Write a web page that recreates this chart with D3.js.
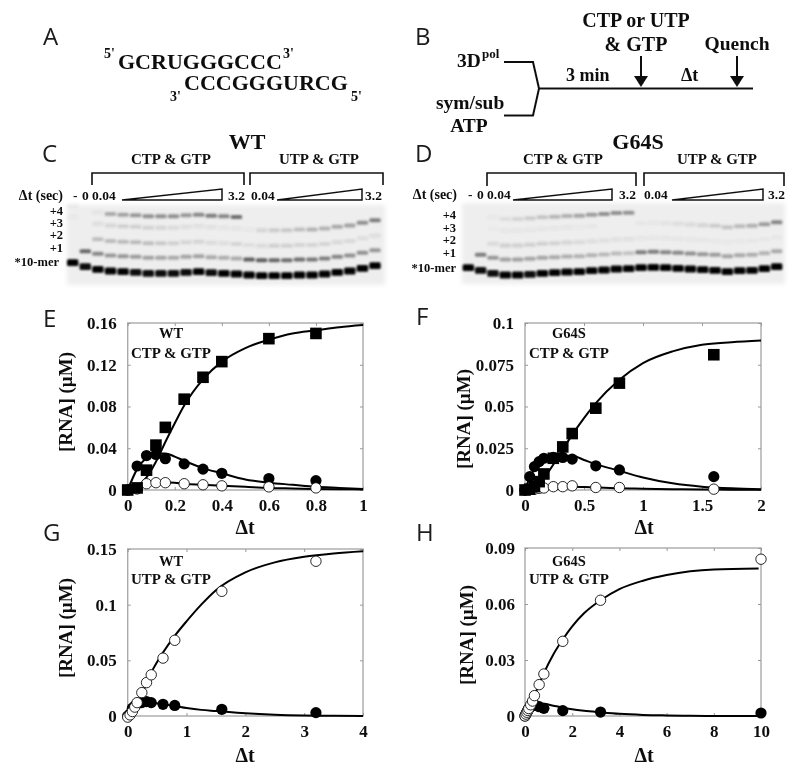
<!DOCTYPE html>
<html><head><meta charset="utf-8">
<script src="https://cdn.jsdelivr.net/npm/d3@7/dist/d3.min.js"></script>
<style>
html,body{margin:0;padding:0;background:#fff}
svg{display:block}
text{font-family:"Liberation Serif",serif;font-weight:700;fill:#111}
.letter{font-family:"Open Sans",sans-serif;font-weight:400;font-size:24px;fill:#1a1a1a}
</style></head><body><div id="chart"></div>
<script>
// ---- kinetics data: time points (s) and [RNA] (uM)
const tE=[0,.04,.08,.12,.16,.24,.32,.4,.6,.8];
const eSquare=[0,.002,.019,.043,.060,.087,.108,.123,.145,.150];
const eFilled=[0,.023,.033,.034,.030,.025,.020,.016,.011,.009];
const eOpen=[0,.001,.006,.007,.007,.006,.005,.004,.003,.002];
const eCurveT=[0,.04,.08,.12,.16,.2,.24,.32,.4,.5,.6,.7,.8,.9,1];
const eCurveS=[0,.003,.012,.027,.046,.064,.081,.106,.123,.136,.144,.150,.153,.156,.158];
const eCurveF=[0,.020,.031,.035,.035,.032,.028,.021,.016,.010,.007,.005,.003,.002,.001];
const eCurveO=[0,.004,.007,.0075,.0075,.007,.006,.005,.004,.003,.002,.0015,.001,.0008,.0005];

const tF=[0,.04,.08,.12,.16,.24,.32,.4,.6,.8,1.6];
const fSquare=[0,.0005,.002,.005,.0096,.019,.0258,.0338,.049,.064,.081];
const fFilled=[0,.008,.014,.017,.019,.0195,.0195,.0185,.0145,.012,.008];
const fOpen=[0,.0003,.0005,.001,.0012,.002,.002,.0025,.0015,.0015,.0005];
const fCurveT=[0,.05,.1,.2,.3,.4,.5,.6,.8,1,1.25,1.5,1.75,2];
const fCurveS=[0,.0005,.003,.011,.022,.033,.043,.052,.066,.076,.083,.087,.0885,.0895];
const fCurveF=[0,.009,.014,.019,.0205,.0205,.018,.0155,.0115,.0075,.004,.002,.001,.0005];
const fCurveO=[0,.0005,.001,.002,.002,.002,.0018,.0015,.001,.0008,.0005,.0003,.0002,.0001];

const tG=[0,.04,.08,.12,.16,.24,.32,.4,.6,.8,1.6,3.2];
const gOpen=[-.001,.001,.004,.008,.012,.021,.03,.037,.052,.068,.112,.139];
const gFilled=[0,.002,.007,.009,.011,.012,.013,.012,.0105,.0095,.006,.003];
const gCurveT=[0,.2,.4,.6,.8,1,1.25,1.5,2,2.5,3,3.5,4];
const gCurveO=[0,.015,.039,.057,.072,.085,.100,.113,.129,.138,.143,.146,.148];
const gCurveF=[0,.012,.012,.0105,.009,.0072,.0055,.0045,.0025,.0012,.0005,.0002,0];

const tH=[0,.04,.08,.12,.16,.24,.32,.4,.6,.8,1.6,3.2,10];
const hOpen=[0,.001,.002,.003,.004,.006,.008,.0109,.0168,.0225,.040,.062,.084];
const hFilled=[0,.001,.002,.003,.004,.005,.0055,.006,.005,.0041,.0029,.0021,.0016];
const hCurveT=[0,.4,.8,1.2,1.6,2,2.5,3.2,4,5,6,7,8,9.9];
const hCurveO=[0,.011,.023,.033,.041,.048,.055,.062,.068,.0725,.0755,.0775,.0785,.079];
const hCurveF=[0,.006,.0065,.0055,.0045,.0036,.0028,.002,.0012,.0006,.0003,.0001,0,0];

const xTicksE=[0,.2,.4,.6,.8,1], yTicksE=[0,.04,.08,.12,.16];
const xTicksF=[0,.5,1,1.5,2], yTicksF=[0,.025,.05,.075,.1];
const xTicksG=[0,1,2,3,4], yTicksG=[0,.05,.1,.15];
const xTicksH=[0,2,4,6,8,10], yTicksH=[0,.03,.06,.09];

// ---- gel data: 10-mer mobility per lane and band strength per lane
const mobC=[22.3,18.3,15.7,14,13.3,12.7,11.7,11.7,11.7,12.7,13.3,12.3,11.7,11,10,9.3,9.3,9.3,10,10,11,12.7,14,16.7,19.3];
const c10=[1,.95,1,1,1,.95,.95,.95,.95,.95,1,.95,1,1,1,1,1,1,1,1,1,1,1,1,1];
const cP1=[0,.8,.6,.5,.5,.48,.45,.42,.4,.42,.45,.4,.38,.4,.85,.85,.8,.75,.75,.7,.65,.6,.55,.55,.5];
const cP2=[0,0,.28,.3,.3,.3,.28,.22,.18,.15,.15,.12,.1,.15,.1,.12,.18,.18,.15,.15,.15,.13,.13,.1,.1];
const cP3=[.04,0,.1,.14,.18,.18,.16,.14,.12,.1,.08,.08,.06,.06,.04,.14,.2,.22,.28,.34,.36,.4,.45,.55,.65];
const cP4=[.05,0,.06,.4,.45,.5,.55,.55,.55,.5,.58,.65,.6,.75,0,0,0,0,0,0,0,0,0,0,0];

const mobD=[16.3,13.7,10.7,9,9,9.7,10.7,11.3,12,12.3,13.3,14,15,15.3,16.3,16.7,16.3,15.7,15,14.3,13.7,12.3,13.3,13.7,15.3,17.3];
const d10=[1,.95,.95,1,1,.95,1,1,1,1,1,1,1,1,1,1,1,1,1,1,1,1,1,1,1,1];
const dP1=[0,.65,.5,.45,.45,.42,.42,.4,.38,.35,.35,.32,.3,.25,.65,.65,.6,.58,.55,.5,.48,.42,.4,.38,.35,.4];
const dP2=[0,0,.12,.18,.18,.18,.18,.16,.15,.12,.1,.1,.08,.08,.05,.05,.05,.05,.05,.05,.04,.04,.04,.03,.03,.03];
const dP3=[0,0,.02,.05,.05,.05,.05,.05,.05,.04,.03,0,0,0,.03,.05,.07,.1,.12,.15,.2,.24,.3,.36,.48,.6];
const dP4=[0,0,.04,.1,.15,.2,.25,.32,.36,.42,.48,.55,.55,.52,0,0,0,0,0,0,0,0,0,0,0,0];
const bandLevelsC=[0,15.5,30,45.5,57];
const bandLevelsD=[0,15.5,29.5,44.5,56];
const bandNames=["*10-mer","+1","+2","+3","+4"];

const W=800,H=777;
const svg=d3.select("#chart").append("svg").attr("width",W).attr("height",H).attr("viewBox",[0,0,W,H]);
const defs=svg.append("defs");
defs.append("filter").attr("id","band").attr("x","-30%").attr("y","-80%").attr("width","160%").attr("height","260%")
  .append("feGaussianBlur").attr("stdDeviation","1.1 1.0");
defs.append("filter").attr("id","bg").attr("x","-5%").attr("y","-10%").attr("width","110%").attr("height","120%")
  .append("feGaussianBlur").attr("stdDeviation",2);
defs.append("filter").attr("id","soft").attr("x","-10%").attr("y","-10%").attr("width","120%").attr("height","120%")
  .append("feGaussianBlur").attr("stdDeviation",.4);

const root=svg.append("g").attr("filter","url(#soft)");
function label(t,x,y,size,anchor="start",cls=null){
  return root.append("text").attr("x",x).attr("y",y).attr("font-size",size).attr("text-anchor",anchor).attr("class",cls).text(t);
}

// ---- panel letters
[["A",43,45],["B",415,45],["C",42,162],["D",415,162],["E",43,327],["F",416,325],["G",43,541],["H",416,541]]
  .forEach(([t,x,y])=>label(t,x,y,25,"start","letter"));

// ---- panel A
label("GCRUGGGCCC",118,69,22);
label("CCCGGGURCG",184,90,22);
label("5'",104,58,14); label("3'",283,58,14);
label("3'",170,101,14); label("5'",351,101,14);

// ---- panel B
const ink=(pts,w=2)=>root.append("path").attr("d",d3.line()(pts)).attr("fill","none").attr("stroke","#111").attr("stroke-width",w);
ink([[504,62],[533,62],[539,88.5],[753,88.5]]);
ink([[504,115.5],[533,115.5],[539,88.5]]);
function arrow(x,y0,y1){
  ink([[x,y0],[x,y1-10]]);
  root.append("path").attr("d",d3.line()([[x-7,y1-11],[x+7,y1-11],[x,y1]])+"Z").attr("fill","#111");
}
arrow(641,56,87); arrow(737,56,87);
label("3D",457,67,19.5); label("pol",482,58,13);
label("sym/sub",436,109,19.5);
label("ATP",469,132,19.5,"middle");
label("3 min",566,81,18);
label("\u0394t",681,81,18);
label("CTP or UTP",636,27,20,"middle");
label("& GTP",636,51,20,"middle");
label("Quench",737,50,19.5,"middle");

// ---- gels
function gel(o){
  const g=root.append("g");
  g.append("rect").attr("x",o.x0).attr("y",o.y0).attr("width",o.x1-o.x0).attr("height",o.y1-o.y0)
   .attr("fill","#eeeeee").attr("filter","url(#bg)");
  const lanes=d3.scalePoint().domain(d3.range(o.mob.length)).range([o.lane0,o.lane1]);
  const yM=d3.scaleLinear().domain([0,80]).range([o.y1,o.y1-80]);
  o.series.forEach((vals,k)=>{
    g.append("g").attr("filter","url(#band)").selectAll("rect").data(vals).join("rect")
     .attr("x",(d,i)=>lanes(i)-5.7).attr("width",11.4)
     .attr("y",(d,i)=>yM(o.mob[i]+o.levels[k])-(k==0?3.4:2))
     .attr("height",k==0?6.8:4).attr("rx",1.5)
     .attr("fill",k==0?"#000":"#444").attr("fill-opacity",d=>d);
  });
}
gel({x0:67,x1:385,y0:205,y1:285,lane0:72.7,lane1:375,mob:mobC,levels:bandLevelsC,series:[c10,cP1,cP2,cP3,cP4]});
gel({x0:462,x1:785,y0:203,y1:284,lane0:468.3,lane1:776.7,mob:mobD,levels:bandLevelsD,series:[d10,dP1,dP2,dP3,dP4]});

function bracket(x0,x1,top,bot){ink([[x0,bot],[x0,top],[x1,top],[x1,bot]],1.6);}
function wedge(x0,x1,top,bot){
  root.append("path").attr("d",d3.line()([[x0,bot],[x1,top],[x1,bot]])+"Z").attr("fill","#fff").attr("stroke","#111").attr("stroke-width",1.5);
}
label("WT",247,149,22,"middle");
label("CTP & GTP",171,164,15,"middle");
label("UTP & GTP",319,164,15,"middle");
bracket(92,244,173,185); bracket(250,383,173,185);
label("\u0394t (sec)",63,200,14,"end");
label("-",73,200,13.5); label("0",82,200,13.5);
label("0.04",92,200,13.5); wedge(122,222,189,200); label("3.2",228,200,13.5);
label("0.04",251,200,13.5); wedge(277,362,189,200); label("3.2",365,200,13.5);
bandNames.forEach((n,i)=>{
  label(n,i==0?59:63,[266,252,239,227,215][i],12.5,"end");
});

label("G64S",638,149,22,"middle");
label("CTP & GTP",563,164,15,"middle");
label("UTP & GTP",717,164,15,"middle");
bracket(487,636,173,186); bracket(644,784,173,186);
label("\u0394t (sec)",457,199,14,"end");
label("-",468,199,13.5); label("0",477,199,13.5);
label("0.04",487,199,13.5); wedge(513,612,189,200); label("3.2",619,199,13.5);
label("0.04",644,199,13.5); wedge(672,763,189,200); label("3.2",768,199,13.5);
bandNames.forEach((n,i)=>{
  label(n,456,[272,257,244,232,219][i],12.5,"end");
});

// ---- kinetics plots
function plot(o){
  const x=d3.scaleLinear().domain(o.xd).range([o.l,o.r]);
  const y=d3.scaleLinear().domain(o.yd).range([o.b,o.t]);
  const g=root.append("g");
  g.append("rect").attr("x",o.l).attr("y",o.t).attr("width",o.r-o.l).attr("height",o.b-o.t)
    .attr("fill","none").attr("stroke","#aaa").attr("stroke-width",1.4);
  const fmt=d=>String(d);
  const style=s=>{s.select(".domain").remove();s.selectAll("line").attr("stroke","#999");
    s.selectAll("text").attr("font-size",17).attr("fill","#111").attr("font-family",'"Liberation Serif",serif').attr("font-weight",700);};
  g.append("g").attr("transform",`translate(0,${o.b})`).call(d3.axisBottom(x).tickValues(o.xt).tickFormat(fmt).tickSize(-3).tickPadding(9)).call(style);
  g.append("g").attr("transform",`translate(${o.l},0)`).call(d3.axisLeft(y).tickValues(o.yt).tickFormat(fmt).tickSize(-3).tickPadding(o.pad)).call(style);
  g.append("g").attr("transform",`translate(0,${o.t})`).call(d3.axisTop(x).tickValues(o.xt).tickFormat("").tickSize(-3)).call(style);
  g.append("g").attr("transform",`translate(${o.r},0)`).call(d3.axisRight(y).tickValues(o.yt).tickFormat("").tickSize(-3)).call(style);
  const line=d3.line().x(d=>x(d[0])).y(d=>y(d[1])).curve(d3.curveMonotoneX);
  o.curves.forEach(c=>g.append("path").attr("d",line(d3.zip(o.ct,c))).attr("fill","none").attr("stroke","#000").attr("stroke-width",2));
  if(o.filled) g.append("g").selectAll("circle").data(d3.zip(o.tp,o.filled)).join("circle")
    .attr("cx",d=>x(d[0])).attr("cy",d=>y(d[1])).attr("r",5.6).attr("fill","#000");
  if(o.open) g.append("g").selectAll("circle").data(d3.zip(o.tp,o.open)).join("circle")
    .attr("cx",d=>x(d[0])).attr("cy",d=>y(d[1])).attr("r",5.2).attr("fill","#fff").attr("stroke","#111").attr("stroke-width",.9);
  if(o.squares) g.append("g").selectAll("rect").data(d3.zip(o.tp,o.squares)).join("rect")
    .attr("x",d=>x(d[0])-5.8).attr("y",d=>y(d[1])-5.8).attr("width",11.6).attr("height",11.6).attr("fill","#000");
  label(o.n1,o.lab,o.t+o.n1y,14.5,"middle");
  label(o.n2,o.lab,o.t+o.n2y,15,"middle");
  label("\u0394t",o.dtx,o.b+o.dty,20,"middle");
  root.append("text").attr("transform",`translate(${o.yx},${o.yy}) rotate(-90)`).attr("text-anchor","middle").attr("font-size",19).text("[RNA] (\u00b5M)");
}
plot({l:127.7,r:363,t:323,b:490,xd:[0,1],yd:[0,.16],xt:xTicksE,yt:yTicksE,pad:11,tp:tE,squares:eSquare,filled:eFilled,open:eOpen,ct:eCurveT,curves:[eCurveS,eCurveF,eCurveO],n1:"WT",n2:"CTP & GTP",lab:171,n1y:15,n2y:35,dtx:245,dty:44,yx:72,yy:402});
plot({l:525,r:761,t:323,b:490,xd:[0,2],yd:[0,.1],xt:xTicksF,yt:yTicksF,pad:11,tp:tF,squares:fSquare,filled:fFilled,open:fOpen,ct:fCurveT,curves:[fCurveS,fCurveF,fCurveO],n1:"G64S",n2:"CTP & GTP",lab:569,n1y:15,n2y:35,dtx:644,dty:44,yx:470,yy:419});
plot({l:127.7,r:363,t:549,b:716,xd:[0,4],yd:[0,.15],xt:xTicksG,yt:yTicksG,pad:11,tp:tG,filled:gFilled,open:gOpen,ct:gCurveT,curves:[gCurveO,gCurveF],n1:"WT",n2:"UTP & GTP",lab:171,n1y:17,n2y:35,dtx:245,dty:46,yx:72,yy:628});
plot({l:525,r:761,t:548,b:716,xd:[0,10],yd:[0,.09],xt:xTicksH,yt:yTicksH,pad:10,tp:tH,filled:hFilled,open:hOpen,ct:hCurveT,curves:[hCurveO,hCurveF],n1:"G64S",n2:"UTP & GTP",lab:569,n1y:18,n2y:36,dtx:644,dty:46,yx:473,yy:635});
</script></body></html>
